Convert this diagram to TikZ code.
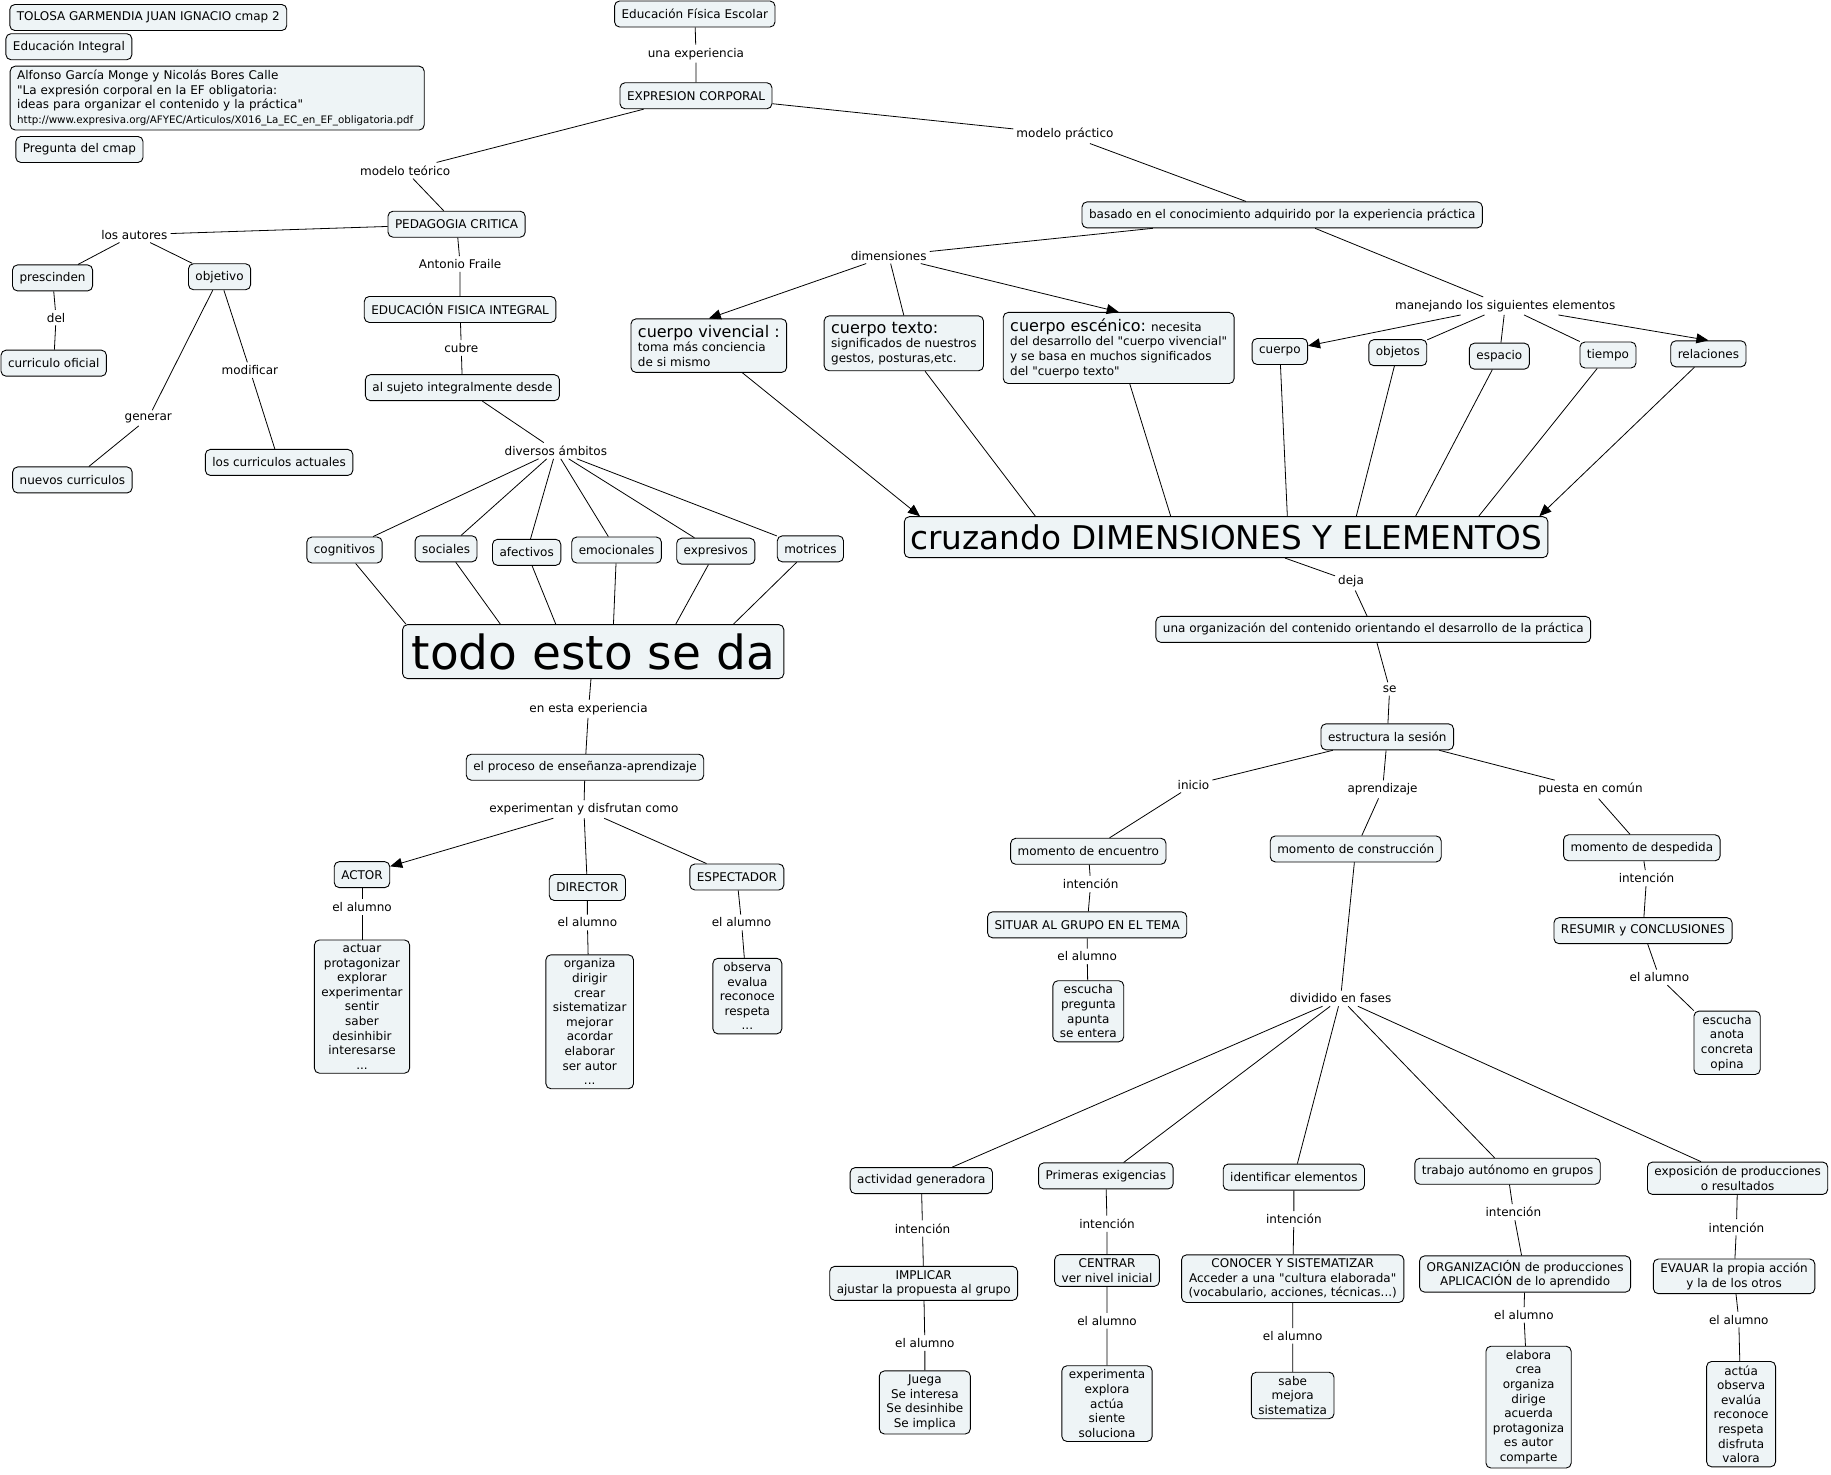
\documentclass[tikz,border=0pt]{standalone}
\usepackage{fontspec}
\setmainfont{DejaVu Sans}[Ligatures=TeXOff]
\usetikzlibrary{arrows.meta,calc}
\definecolor{cmapfill}{RGB}{238,244,246}

\begin{document}
\begin{tikzpicture}[
    x=1.1677pt, y=-1.1677pt,
    >={Triangle[length=12pt,width=10pt]},
    concept/.style={draw, rounded corners=5pt, fill=cmapfill, line width=0.9pt, align=center,
      inner xsep=7pt, inner ysep=4pt, minimum height=26pt, font=\fontsize{12}{14.6}\selectfont},
    dimbox/.style={concept, align=left, inner ysep=6pt},
    lbl/.style={inner sep=3pt, font=\fontsize{12}{14.6}\selectfont},
    rel/.style={line width=0.8pt},
    rela/.style={rel, ->}
]
  \useasboundingbox (0,0) rectangle (1568,1263);

  % Cabecera
  \node[concept] (autor) at (127,15) {TOLOSA GARMENDIA JUAN IGNACIO cmap 2};
  \node[concept] (tema) at (59,40) {Educación Integral};
  \node[concept, align=left, text width=400pt] (fuente) at (186,84) {Alfonso García Monge y Nicolás Bores Calle\\"La expresión corporal en la EF obligatoria:\\ideas para organizar el contenido y la práctica"\\{\fontsize{10.3}{11.5}\selectfont http://www.expresiva.org/AFYEC/Articulos/X016\_La\_EC\_en\_EF\_obligatoria.pdf}};
  \node[concept] (pregunta) at (68,128) {Pregunta del cmap};

  % Raiz
  \node[concept] (efe) at (595,12) {Educación Física Escolar};
  \node[lbl] (unaexp) at (596,46) {una experiencia};
  \node[concept] (ec) at (596,82) {EXPRESION CORPORAL};
  \node[lbl] (mteo) at (347,146) {modelo teórico};
  \node[lbl] (mprac) at (912,115) {modelo práctico};

  \draw[rel] (efe) -- (unaexp) -- (ec);
  \draw[rel] (ec) -- (mteo);
  \draw[rel] (ec) -- (mprac);

  % Modelo teorico
  \node[concept] (pc) at (391,192) {PEDAGOGIA CRITICA};
  \node[lbl] (autores) at (115,201) {los autores};
  \node[concept] (prescinden) at (45,238) {prescinden};
  \node[concept] (objetivo) at (188,237) {objetivo};
  \node[lbl] (del) at (48,272) {del};
  \node[concept] (curoficial) at (46,311) {curriculo oficial};
  \node[lbl] (modificar) at (214,317) {modificar};
  \node[lbl] (generar) at (127,358) {generar};
  \node[concept] (nuevos) at (62,411) {nuevos curriculos};
  \node[concept] (actuales) at (239,396) {los curriculos actuales};
  \node[lbl] (fraile) at (394,226) {Antonio Fraile};
  \node[concept] (efi) at (394,265) {EDUCACIÓN FISICA INTEGRAL};
  \node[lbl] (cubre) at (395,298) {cubre};
  \node[concept] (sujeto) at (396,332) {al sujeto integralmente desde};
  \node[lbl] (ambitos) at (476,386) {diversos ámbitos};

  \draw[rel] (mteo) -- (pc);
  \draw[rel] (pc) -- (autores);
  \draw[rel] (autores) -- (prescinden);
  \draw[rel] (autores) -- (objetivo);
  \draw[rel] (prescinden) -- (del) -- (curoficial);
  \draw[rel] (objetivo) -- (generar) -- (nuevos);
  \draw[rel] (objetivo) -- (modificar) -- (actuales);
  \draw[rel] (pc) -- (fraile) -- (efi);
  \draw[rel] (efi) -- (cubre) -- (sujeto);
  \draw[rel] (sujeto) -- (ambitos);

  % Ambitos
  \node[concept] (cog) at (295,471) {cognitivos};
  \node[concept] (soc) at (382,470) {sociales};
  \node[concept] (afe) at (451,473) {afectivos};
  \node[concept] (emo) at (528,471) {emocionales};
  \node[concept] (exp) at (613,472) {expresivos};
  \node[concept] (mot) at (694,470) {motrices};
  \node[concept, font=\fontsize{47}{50}\selectfont, inner xsep=9pt, minimum height=54pt] (todo) at (508,558) {todo esto se da};

  \foreach \n in {cog,soc,afe,emo,exp,mot}
    \draw[rel] (ambitos) -- (\n);
  \foreach \n/\f in {cog/.01,soc/.257,afe/.402,emo/.553,exp/.716,mot/.867}
    \draw[rel] (\n) -- ($(todo.north west)!\f!(todo.north east)$);

  % Roles del alumno
  \node[lbl] (enesta) at (504,607) {en esta experiencia};
  \node[concept] (proceso) at (501,657) {el proceso de enseñanza-aprendizaje};
  \node[lbl] (disfrutan) at (500,693) {experimentan y disfrutan como};
  \node[concept] (actor) at (310,749) {ACTOR};
  \node[lbl] (alactor) at (310,777) {el alumno};
  \node[concept] (lactor) at (310,862) {actuar\\protagonizar\\explorar\\experimentar\\sentir\\saber\\desinhibir\\interesarse\\...};
  \node[concept] (director) at (503,760) {DIRECTOR};
  \node[lbl] (aldirector) at (503,790) {el alumno};
  \node[concept] (ldirector) at (505,875) {organiza\\dirigir\\crear\\sistematizar\\mejorar\\acordar\\elaborar\\ser autor\\...};
  \node[concept] (espectador) at (631,751) {ESPECTADOR};
  \node[lbl] (alesp) at (635,790) {el alumno};
  \node[concept] (lesp) at (640,853) {observa\\evalua\\reconoce\\respeta\\...};

  \draw[rel] (todo) -- (enesta) -- (proceso);
  \draw[rel] (proceso) -- (disfrutan);
  \draw[rela] (disfrutan) -- (actor);
  \draw[rel] (disfrutan) -- (director);
  \draw[rel] (disfrutan) -- (espectador);
  \draw[rel] (actor) -- (alactor) -- (lactor);
  \draw[rel] (director) -- (aldirector) -- (ldirector);
  \draw[rel] (espectador) -- (alesp) -- (lesp);

  % Modelo practico
  \node[concept] (basado) at (1098,184) {basado en el conocimiento adquirido por la experiencia práctica};
  \node[lbl] (dim) at (761,219) {dimensiones};
  \node[lbl] (manejando) at (1289,262) {manejando los siguientes elementos};
  \node[dimbox] (cviv) at (607,296) {{\fontsize{16}{19}\selectfont cuerpo vivencial :}\\toma más conciencia\\de si mismo};
  \node[dimbox] (ctex) at (774,294) {{\fontsize{16}{19}\selectfont cuerpo texto:}\\significados de nuestros\\gestos, posturas,etc.};
  \node[dimbox] (cesc) at (958,298) {{\fontsize{16}{19}\selectfont cuerpo escénico:} necesita\\del desarrollo del "cuerpo vivencial"\\y se basa en muchos significados\\del "cuerpo texto"};
  \node[concept] (cuerpo) at (1096,301) {cuerpo};
  \node[concept] (objetos) at (1197,302) {objetos};
  \node[concept] (espacio) at (1284,305) {espacio};
  \node[concept] (tiempo) at (1377,304) {tiempo};
  \node[concept] (relaciones) at (1463,303) {relaciones};
  \node[concept, font=\fontsize{32.7}{36}\selectfont, inner xsep=6pt, minimum height=41pt] (cruzando) at (1050,460) {cruzando DIMENSIONES Y ELEMENTOS};

  \draw[rel] (mprac) -- (basado);
  \draw[rel] (basado) -- (dim);
  \draw[rela] (dim) -- (cviv.north);
  \draw[rel] (dim) -- (ctex.north);
  \draw[rela] (dim) -- (cesc.north);
  \draw[rel] (basado) -- (manejando);
  \draw[rela] (manejando) -- (cuerpo);
  \draw[rel] (manejando) -- (objetos);
  \draw[rel] (manejando) -- (espacio);
  \draw[rel] (manejando) -- (tiempo);
  \draw[rela] (manejando) -- (relaciones.north);
  \draw[rela] (cviv) -- ($(cruzando.north west)!.025!(cruzando.north east)$);
  \foreach \n/\f in {ctex/.204,cesc/.414,cuerpo/.595,objetos/.702,espacio/.794,tiempo/.892}
    \draw[rel] (\n) -- ($(cruzando.north west)!\f!(cruzando.north east)$);
  \draw[rela] (relaciones) -- ($(cruzando.north west)!.986!(cruzando.north east)$);

  % Estructura de la sesion
  \node[lbl] (deja) at (1157,498) {deja};
  \node[concept] (organiz) at (1176,539) {una organización del contenido orientando el desarrollo de la práctica};
  \node[lbl] (se) at (1190,590) {se};
  \node[concept] (sesion) at (1188,631) {estructura la sesión};
  \node[lbl] (inicio) at (1022,672) {inicio};
  \node[lbl] (aprend) at (1184,676) {aprendizaje};
  \node[lbl] (puesta) at (1362,676) {puesta en común};
  \node[concept] (encuentro) at (932,729) {momento de encuentro};
  \node[lbl] (intenc) at (934,757) {intención};
  \node[concept] (situar) at (931,792) {SITUAR AL GRUPO EN EL TEMA};
  \node[lbl] (alsituar) at (931,819) {el alumno};
  \node[concept] (lsituar) at (932,866) {escucha\\pregunta\\apunta\\se entera};
  \node[concept] (construccion) at (1161,727) {momento de construcción};
  \node[lbl] (fases) at (1148,855) {dividido en fases};
  \node[concept] (despedida) at (1406,726) {momento de despedida};
  \node[lbl] (intdesp) at (1410,752) {intención};
  \node[concept] (resumir) at (1407,797) {RESUMIR y CONCLUSIONES};
  \node[lbl] (alresumir) at (1421,837) {el alumno};
  \node[concept] (lresumir) at (1479,893) {escucha\\anota\\concreta\\opina};

  \draw[rel] (cruzando) -- (deja) -- (organiz);
  \draw[rel] (organiz) -- (se) -- (sesion);
  \draw[rel] (sesion) -- (inicio) -- (encuentro);
  \draw[rel] (sesion) -- (aprend) -- (construccion);
  \draw[rel] (sesion) -- (puesta) -- (despedida);
  \draw[rel] (encuentro) -- (intenc) -- (situar) -- (alsituar) -- (lsituar);
  \draw[rel] (construccion) -- (fases);
  \draw[rel] (despedida) -- (intdesp) -- (resumir) -- (alresumir) -- (lresumir);

  % Fases
  \node[concept] (generadora) at (789,1011) {actividad generadora};
  \node[concept] (exigencias) at (947,1007) {Primeras exigencias};
  \node[concept] (identificar) at (1108,1008) {identificar elementos};
  \node[concept] (trabajo) at (1291,1003) {trabajo autónomo en grupos};
  \node[concept] (exposicion) at (1488,1009) {exposición de producciones\\o resultados};

  \node[lbl] (intgen) at (790,1052) {intención};
  \node[lbl] (intexi) at (948,1048) {intención};
  \node[lbl] (intide) at (1108,1044) {intención};
  \node[lbl] (inttra) at (1296,1038) {intención};
  \node[lbl] (intexp) at (1487,1051) {intención};

  \node[concept] (implicar) at (791,1099) {IMPLICAR\\ajustar la propuesta al grupo};
  \node[concept] (centrar) at (948,1088) {CENTRAR\\ver nivel inicial};
  \node[concept] (conocer) at (1107,1095) {CONOCER Y SISTEMATIZAR\\Acceder a una "cultura elaborada"\\(vocabulario, acciones, técnicas...)};
  \node[concept] (organizacion) at (1306,1091) {ORGANIZACIÓN de producciones\\APLICACIÓN de lo aprendido};
  \node[concept] (evaluar) at (1485,1093) {EVAUAR la propia acción\\y la de los otros};

  \node[lbl] (algen) at (792,1150) {el alumno};
  \node[lbl] (alexi) at (948,1131) {el alumno};
  \node[lbl] (alide) at (1107,1144) {el alumno};
  \node[lbl] (altra) at (1305,1126) {el alumno};
  \node[lbl] (alexp) at (1489,1130) {el alumno};

  \node[concept] (lgen) at (792,1201) {Juega\\Se interesa\\Se desinhibe\\Se implica};
  \node[concept] (lexi) at (948,1202) {experimenta\\explora\\actúa\\siente\\soluciona};
  \node[concept] (lide) at (1107,1195) {sabe\\mejora\\sistematiza};
  \node[concept] (ltra) at (1309,1205) {elabora\\crea\\organiza\\dirige\\acuerda\\protagoniza\\es autor\\comparte};
  \node[concept] (lexp) at (1491,1211) {actúa\\observa\\evalúa\\reconoce\\respeta\\disfruta\\valora};

  \foreach \n in {generadora,exigencias,identificar,trabajo,exposicion}
    \draw[rel] (fases) -- (\n);
  \draw[rel] (generadora) -- (intgen) -- (implicar) -- (algen) -- (lgen);
  \draw[rel] (exigencias) -- (intexi) -- (centrar) -- (alexi) -- (lexi);
  \draw[rel] (identificar) -- (intide) -- (conocer) -- (alide) -- (lide);
  \draw[rel] (trabajo) -- (inttra) -- (organizacion) -- (altra) -- (ltra);
  \draw[rel] (exposicion) -- (intexp) -- (evaluar) -- (alexp) -- (lexp);
\end{tikzpicture}
\end{document}
